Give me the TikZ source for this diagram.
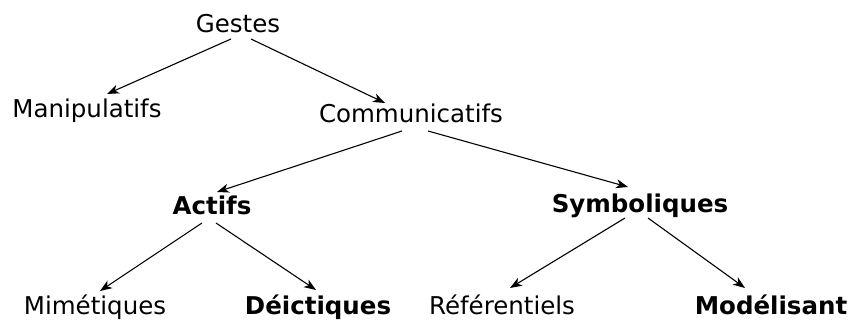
\documentclass[tikz,border=0pt]{standalone}
\usepackage{fontspec}
\setmainfont{DejaVu Sans}
\usetikzlibrary{arrows.meta}
\begin{document}
\begin{tikzpicture}[x=1pt,y=-1pt,
  lbl/.style={anchor=base,inner sep=0pt,font=\fontsize{24.5}{28}\selectfont},
  blbl/.style={lbl,font=\fontsize{24.5}{28}\selectfont\bfseries},
  conn/.style={line width=1.1pt,-{Stealth[length=12pt,width=9pt,inset=3.5pt]}}]
\useasboundingbox (0,0) rectangle (849,320);
\node[lbl]  (G)  at (238,33)  {Gestes};
\node[lbl]  (M)  at (87,118)  {Manipulatifs};
\node[lbl]  (C)  at (411,123) {Communicatifs};
\node[blbl] (A)  at (212,215) {Actifs};
\node[blbl] (S)  at (640,213) {Symboliques};
\node[lbl]  (Mi) at (95,315)  {Mimétiques};
\node[blbl] (D)  at (318,315) {Déictiques};
\node[lbl]  (R)  at (502,315) {Référentiels};
\node[blbl] (Mo) at (771,315) {Modélisant};
\draw[conn] ([shift={(-7,6)}]G.base) -- ([shift={(20,-24)}]M.base);
\draw[conn] ([shift={(13,6)}]G.base) -- ([shift={(-26,-20)}]C.base);
\draw[conn] ([shift={(-9,8)}]C.base) -- ([shift={(5,-23)}]A.base);
\draw[conn] ([shift={(17,8)}]C.base) -- ([shift={(-12,-26)}]S.base);
\draw[conn] ([shift={(-10,8)}]A.base) -- ([shift={(5,-24)}]Mi.base);
\draw[conn] ([shift={(4,8)}]A.base) -- ([shift={(-2,-25)}]D.base);
\draw[conn] ([shift={(-15,5)}]S.base) -- ([shift={(8,-27)}]R.base);
\draw[conn] ([shift={(8,5)}]S.base) -- ([shift={(-26,-27)}]Mo.base);
\end{tikzpicture}
\end{document}
